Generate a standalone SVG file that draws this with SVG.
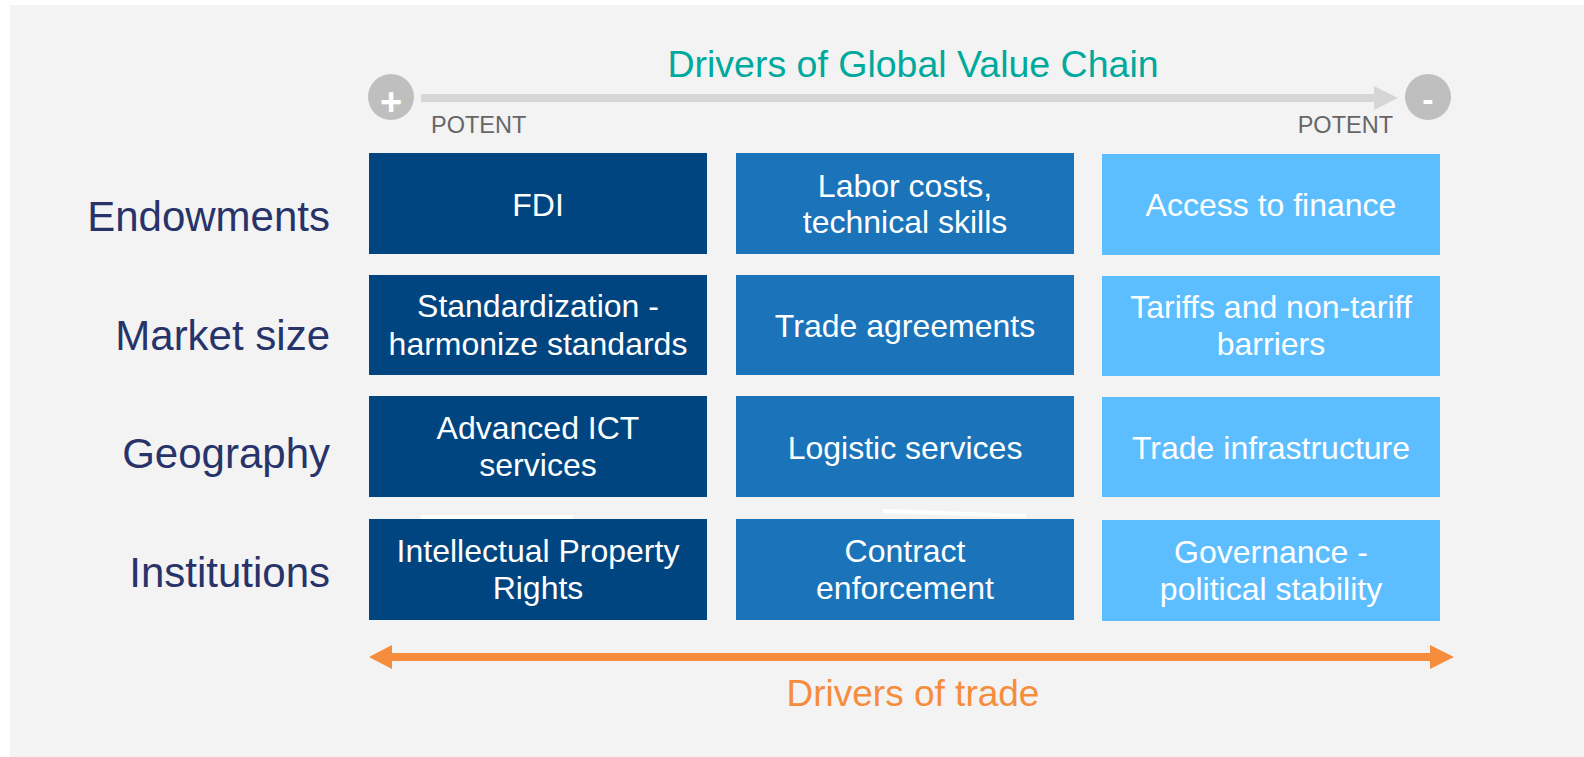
<svg xmlns="http://www.w3.org/2000/svg" width="1584" height="757" viewBox="0 0 1584 757">
<style>
.bg{fill:#F3F3F3}
.c1{fill:#014580}
.c2{fill:#1B74BA}
.c3{fill:#5CBEFF}
.bt{font-family:"Liberation Sans",Arial,sans-serif;font-size:32px;fill:#FFFFFF;text-anchor:middle}
.rl{font-family:"Liberation Sans",Arial,sans-serif;font-size:42px;fill:#28336A;text-anchor:end}
.pt{font-family:"Liberation Sans",Arial,sans-serif;font-size:23.5px;fill:#666666}
.circ{fill:#BFBFBF}
.gray{fill:#D6D6D6}
.orange{fill:#F68D3C}
</style>
<rect class="bg" x="10" y="5" width="1574" height="752"/>

<g id="title">
<text x="913" y="77" font-family="Liberation Sans, Arial, sans-serif" font-size="37.5" fill="#00A99D" text-anchor="middle">Drivers of Global Value Chain</text>
</g>

<g id="connectors">
<g id="potency-arrow">
<rect class="gray" x="421" y="94" width="954" height="8"/>
<polygon class="gray" points="1398,98 1374,86 1374,110"/>
</g>
<g id="trade-arrow">
<rect class="orange" x="391" y="653" width="1040" height="8"/>
<polygon class="orange" points="369,657 392,645 392,669"/>
<polygon class="orange" points="1454,657 1430,645 1430,669"/>
</g>
</g>

<g id="plus-node">
<circle class="circ" cx="391" cy="97" r="23"/>
<text x="391" y="115" font-family="Liberation Sans, Arial, sans-serif" font-size="38" font-weight="bold" fill="#FFFFFF" text-anchor="middle">+</text>
</g>
<g id="minus-node">
<circle class="circ" cx="1428" cy="97" r="23"/>
<text x="1428" y="111" font-family="Liberation Sans, Arial, sans-serif" font-size="34" font-weight="bold" fill="#FFFFFF" text-anchor="middle">-</text>
</g>
<g id="potent-labels">
<text class="pt" x="431" y="133">POTENT</text>
<text class="pt" x="1393" y="133" text-anchor="end">POTENT</text>
</g>

<g id="row-labels">
<text class="rl" x="330" y="231">Endowments</text>
<text class="rl" x="330" y="350">Market size</text>
<text class="rl" x="330" y="468">Geography</text>
<text class="rl" x="330" y="587">Institutions</text>
</g>

<g id="artifacts" fill="#FFFFFF">
<rect x="421" y="515" width="152" height="4"/>
<polygon points="883,509 1026,514 1026,518 883,513"/>
</g>

<g id="fdi"><rect class="c1" x="369" y="153" width="338" height="101"/><text class="bt" x="538" y="216">FDI</text></g>
<g id="labor"><rect class="c2" x="736" y="153" width="338" height="101"/><text class="bt" x="905" y="196.5">Labor costs,</text><text class="bt" x="905" y="233">technical skills</text></g>
<g id="finance"><rect class="c3" x="1102" y="154" width="338" height="101"/><text class="bt" x="1271" y="216">Access to finance</text></g>

<g id="standard"><rect class="c1" x="369" y="275" width="338" height="100"/><text class="bt" x="538" y="316.5">Standardization -</text><text class="bt" x="538" y="355">harmonize standards</text></g>
<g id="agreements"><rect class="c2" x="736" y="275" width="338" height="100"/><text class="bt" x="905" y="336.5">Trade agreements</text></g>
<g id="tariffs"><rect class="c3" x="1102" y="276" width="338" height="100"/><text class="bt" x="1271" y="317.5">Tariffs and non-tariff</text><text class="bt" x="1271" y="355">barriers</text></g>

<g id="ict"><rect class="c1" x="369" y="396" width="338" height="101"/><text class="bt" x="538" y="438.5">Advanced ICT</text><text class="bt" x="538" y="476">services</text></g>
<g id="logistic"><rect class="c2" x="736" y="396" width="338" height="101"/><text class="bt" x="905" y="458.5">Logistic services</text></g>
<g id="infra"><rect class="c3" x="1102" y="397" width="338" height="100"/><text class="bt" x="1271" y="458.5">Trade infrastructure</text></g>

<g id="ipr"><rect class="c1" x="369" y="519" width="338" height="101"/><text class="bt" x="538" y="561.5">Intellectual Property</text><text class="bt" x="538" y="599">Rights</text></g>
<g id="contract"><rect class="c2" x="736" y="519" width="338" height="101"/><text class="bt" x="905" y="561.5">Contract</text><text class="bt" x="905" y="599">enforcement</text></g>
<g id="governance"><rect class="c3" x="1102" y="520" width="338" height="101"/><text class="bt" x="1271" y="562.5">Governance -</text><text class="bt" x="1271" y="600">political stability</text></g>

<g id="trade-label">
<text x="913" y="706" font-family="Liberation Sans, Arial, sans-serif" font-size="37" fill="#F68D3C" text-anchor="middle">Drivers of trade</text>
</g>
</svg>
